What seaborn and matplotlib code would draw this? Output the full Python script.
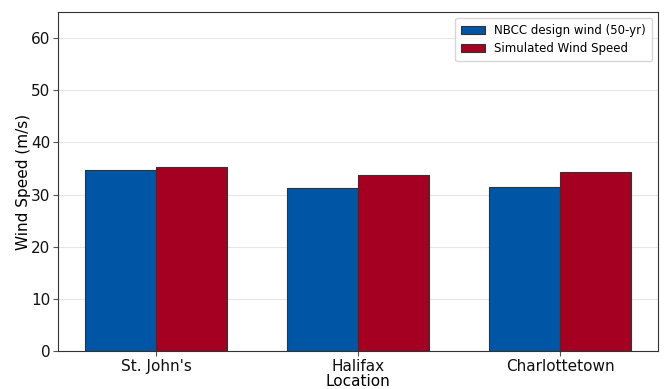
import matplotlib
matplotlib.use("Agg")
import matplotlib.pyplot as plt
import seaborn as sns
import pandas as pd

locations = ["St. John's", "Halifax", "Charlottetown"]
nbcc_wind = [34.8, 31.3, 31.5]
simulated_wind = [35.2, 33.8, 34.4]
series_names = ["NBCC design wind (50-yr)", "Simulated Wind Speed"]
y_ticks = [0, 10, 20, 30, 40, 50, 60]

df = pd.DataFrame({
    "Location": locations * 2,
    "Wind Speed": nbcc_wind + simulated_wind,
    "Series": [series_names[0]] * len(locations) + [series_names[1]] * len(locations),
})

sns.set_style("whitegrid")
plt.rcParams["font.family"] = ["DejaVu Sans"]
plt.rcParams["text.color"] = "black"
plt.rcParams["axes.labelcolor"] = "black"

fig, ax = plt.subplots(figsize=(6.64, 3.89), dpi=100)
fig.subplots_adjust(left=58/664, right=658/664, top=1-12/389, bottom=1-351/389)

sns.barplot(data=df, x="Location", y="Wind Speed", hue="Series",
            palette=["#0055A4", "#A50021"], width=0.7, gap=0,
            edgecolor="#333333", linewidth=0.8, saturation=1, ax=ax)

ax.set_ylim(0, 65)
ax.set_xlim(-0.485, 2.485)
ax.set_yticks(y_ticks)
ax.set_xlabel("Location", fontsize=11, labelpad=0)
ax.set_ylabel("Wind Speed (m/s)", fontsize=11, labelpad=0)
ax.tick_params(axis="both", labelsize=11, length=3.5, width=0.8, pad=2,
               color="#555555", labelcolor="#111111")
ax.tick_params(axis="x", bottom=True)
ax.tick_params(axis="y", left=True)
ax.grid(axis="x", visible=False)
ax.grid(axis="y", color="#e6e6e6", linewidth=0.8)
ax.set_axisbelow(True)
for s in ax.spines.values():
    s.set_color("#333333")
    s.set_linewidth(0.8)

ax.legend(loc="upper right", fontsize=8.5, frameon=True, title=None,
          handlelength=2.0, labelspacing=0.45, borderpad=0.5)

fig.savefig("out.png", dpi=100)
